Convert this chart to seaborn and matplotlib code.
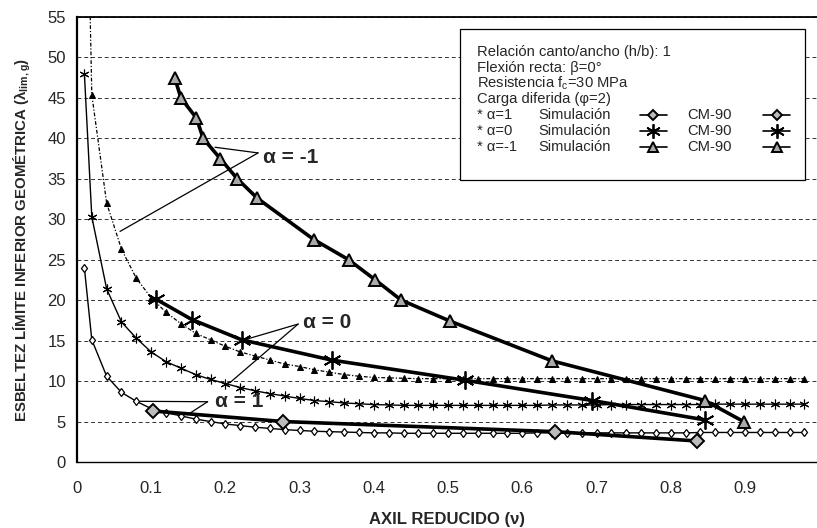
import numpy as np
import pandas as pd
import matplotlib
matplotlib.use("Agg")
import matplotlib.pyplot as plt
import seaborn as sns
from matplotlib.lines import Line2D
from matplotlib.patches import Rectangle

# Simulación: axil reducido cada 0.02
nu_sim = [0.01, 0.02, 0.04, 0.06, 0.08, 0.10, 0.12, 0.14, 0.16, 0.18,
          0.20, 0.22, 0.24, 0.26, 0.28, 0.30, 0.32, 0.34, 0.36, 0.38,
          0.40, 0.42, 0.44, 0.46, 0.48, 0.50, 0.52, 0.54, 0.56, 0.58,
          0.60, 0.62, 0.64, 0.66, 0.68, 0.70, 0.72, 0.74, 0.76, 0.78,
          0.80, 0.82, 0.84, 0.86, 0.88, 0.90, 0.92, 0.94, 0.96, 0.98]

sim_a1 = [24.0, 15.1, 10.6, 8.6, 7.5, 6.6, 6.1, 5.7, 5.3, 5.0,
          4.7, 4.5, 4.3, 4.15, 4.0, 3.9, 3.8, 3.75, 3.7, 3.65,
          3.6, 3.6, 3.55, 3.55, 3.55, 3.55, 3.55, 3.55, 3.55, 3.55,
          3.55, 3.6, 3.6, 3.6, 3.6, 3.6, 3.6, 3.6, 3.6, 3.6,
          3.6, 3.6, 3.65, 3.65, 3.65, 3.65, 3.65, 3.65, 3.65, 3.65]

sim_a0 = [48.0, 30.3, 21.4, 17.3, 15.3, 13.6, 12.4, 11.6, 10.8, 10.2,
          9.7, 9.2, 8.8, 8.45, 8.15, 7.85, 7.6, 7.45, 7.3, 7.2,
          7.1, 7.05, 7.0, 7.0, 7.0, 7.0, 7.0, 7.0, 7.0, 7.0,
          7.0, 7.0, 7.05, 7.05, 7.05, 7.05, 7.1, 7.1, 7.1, 7.1,
          7.1, 7.1, 7.1, 7.15, 7.15, 7.15, 7.15, 7.15, 7.15, 7.15]

sim_am1 = [90.0, 45.4, 32.0, 26.3, 22.7, 20.3, 18.5, 17.1, 15.9, 15.1,
           14.3, 13.6, 13.1, 12.6, 12.1, 11.8, 11.4, 11.1, 10.8, 10.6,
           10.45, 10.4, 10.35, 10.3, 10.3, 10.3, 10.3, 10.3, 10.3, 10.3,
           10.3, 10.3, 10.3, 10.3, 10.3, 10.3, 10.3, 10.3, 10.3, 10.3,
           10.3, 10.3, 10.3, 10.3, 10.3, 10.3, 10.3, 10.3, 10.3, 10.3]

# CM-90
cm_a1_x = [0.103, 0.278, 0.644, 0.835]
cm_a1_y = [6.3, 5.0, 3.75, 2.6]

cm_a0_x = [0.107, 0.155, 0.222, 0.343, 0.523, 0.694, 0.846]
cm_a0_y = [20.1, 17.6, 15.1, 12.6, 10.1, 7.6, 5.2]

cm_am1_x = [0.132, 0.140, 0.161, 0.170, 0.193, 0.216, 0.243, 0.319,
            0.366, 0.402, 0.437, 0.503, 0.640, 0.846, 0.898]
cm_am1_y = [47.4, 45.0, 42.5, 40.0, 37.5, 35.0, 32.6, 27.5,
            25.0, 22.5, 20.0, 17.4, 12.5, 7.6, 5.0]

x_ticks = [0, 0.1, 0.2, 0.3, 0.4, 0.5, 0.6, 0.7, 0.8, 0.9]
x_tick_labels = ["0", "0.1", "0.2", "0.3", "0.4", "0.5", "0.6", "0.7", "0.8", "0.9"]
y_ticks = list(range(0, 56, 5))

header = ["Relación canto/ancho (h/b): 1",
          "Flexión recta: β=0°",
          "Resistencia f$_{\\mathrm{c}}$=30 MPa",
          "Carga diferida (φ=2)"]
alpha_rows = ["* α=1", "* α=0", "* α=-1"]

sns.set_style("white")
plt.rcParams['font.family'] = ['Liberation Sans', 'DejaVu Sans']
plt.rcParams['mathtext.fontset'] = 'custom'
plt.rcParams['mathtext.rm'] = 'Liberation Sans'
plt.rcParams['mathtext.bf'] = 'Liberation Sans:bold'

fig = plt.figure(figsize=(8.17, 5.28), dpi=100)
ax = fig.add_axes([0.0942, 0.125, 0.9058, 0.8428])

# estilos
sim_styles = [
    dict(marker='d', markersize=4.5, markerfacecolor='white', markeredgecolor='black',
         markeredgewidth=0.9, lw=1.0, ls='-'),
    dict(marker=(6, 2, 0), markersize=7, markeredgecolor='black',
         markeredgewidth=0.8, lw=1.0, ls='-'),
    dict(marker='^', markersize=5, markerfacecolor='black', markeredgecolor='black',
         lw=0.9, ls=(0, (3, 1.5, 1, 1.5))),
]
cm_styles = [
    dict(marker='D', markersize=7, markerfacecolor='#bbbbbb', markeredgecolor='black',
         markeredgewidth=1.4, lw=2.6),
    dict(marker=(6, 2, 0), markersize=13, markeredgecolor='black',
         markeredgewidth=1.3, lw=2.6),
    dict(marker='^', markersize=9, markerfacecolor='#aaaaaa', markeredgecolor='black',
         markeredgewidth=1.4, lw=2.6),
]

for yv, st in zip([sim_a1, sim_a0, sim_am1], sim_styles):
    sns.lineplot(x=nu_sim, y=yv, ax=ax, color='black', estimator=None, sort=False, **st)

for xv, yv, st in zip([cm_a1_x, cm_a0_x, cm_am1_x], [cm_a1_y, cm_a0_y, cm_am1_y], cm_styles):
    sns.lineplot(x=xv, y=yv, ax=ax, color='black', estimator=None, sort=False, **st)

ax.set_xlim(0, 0.997)
ax.set_ylim(0, 55)
ax.set_xticks(x_ticks)
ax.set_xticklabels(x_tick_labels)
ax.set_yticks(y_ticks)
ax.tick_params(axis='both', labelsize=12, length=4, width=0.8, color='black',
               direction='out', pad=4)
ax.tick_params(axis='x', direction='inout', length=5, pad=11)
ax.yaxis.grid(True, color='#333333', lw=0.7, ls=(0, (4, 3)))
ax.xaxis.grid(False)
for side in ['left', 'bottom', 'top']:
    ax.spines[side].set_color('black')
ax.spines['left'].set_linewidth(1.6)
ax.spines['bottom'].set_linewidth(1.0)
ax.spines['top'].set_linewidth(1.3)
ax.spines['right'].set_visible(False)

ax.set_xlabel("AXIL REDUCIDO (ν)", fontsize=12, fontweight='bold', labelpad=12)
ax.set_ylabel("ESBELTEZ LÍMITE INFERIOR GEOMÉTRICA (λ$_{\\mathbf{lim,g}}$)",
              fontsize=10.8, fontweight='bold', labelpad=10)

# etiquetas alfa con líneas guía
lab_kw = dict(fontsize=15, fontweight='bold', va='center', ha='left', zorder=6)
line_kw = dict(arrowstyle='-', color='black', lw=0.9, shrinkA=0, shrinkB=0)
ax.text(0.25, 37.6, "α = -1", **lab_kw)
for tgt in [(0.186, 38.9), (0.058, 28.5)]:
    ax.annotate("", xy=tgt, xytext=(0.244, 38.2), arrowprops=line_kw)
ax.text(0.305, 17.3, "α = 0", **lab_kw)
for tgt in [(0.222, 15.0), (0.206, 9.8)]:
    ax.annotate("", xy=tgt, xytext=(0.298, 17.05), arrowprops=line_kw)
ax.text(0.186, 7.45, "α = 1", **lab_kw)
for tgt in [(0.085, 7.5), (0.150, 5.9)]:
    ax.annotate("", xy=tgt, xytext=(0.176, 7.45), arrowprops=line_kw)

# cuadro de leyenda
ax.add_patch(Rectangle((0.517, 0.634), 0.467, 0.338, transform=ax.transAxes,
                       facecolor='white', edgecolor='black', lw=0.9, zorder=7))
row_y = [0.922, 0.886, 0.851, 0.815, 0.779, 0.743, 0.708, 0.672]
leg_fs = 10.6
for txt, yy in zip(header, row_y[:4]):
    ax.text(0.540, yy, txt, transform=ax.transAxes, fontsize=leg_fs, va='center', zorder=8)
for i, (txt, yy) in enumerate(zip(alpha_rows, row_y[4:7])):
    ax.text(0.540, yy, txt, transform=ax.transAxes, fontsize=leg_fs, va='center', zorder=8)
    ax.text(0.623, yy, "Simulación", transform=ax.transAxes, fontsize=leg_fs, va='center', zorder=8)
    ax.text(0.824, yy, "CM-90", transform=ax.transAxes, fontsize=leg_fs, va='center', zorder=8)
    sst = dict(cm_styles[i])
    sst['markersize'] = sst['markersize'] * 0.8
    sst['lw'] = 1.2
    for x0, x1 in [(0.761, 0.797), (0.927, 0.964)]:
        ax.add_line(Line2D([x0, (x0 + x1) / 2, x1], [yy, yy, yy], transform=ax.transAxes,
                           color='black', markevery=[1], zorder=8, **sst))

fig.savefig("out.png", dpi=100)
